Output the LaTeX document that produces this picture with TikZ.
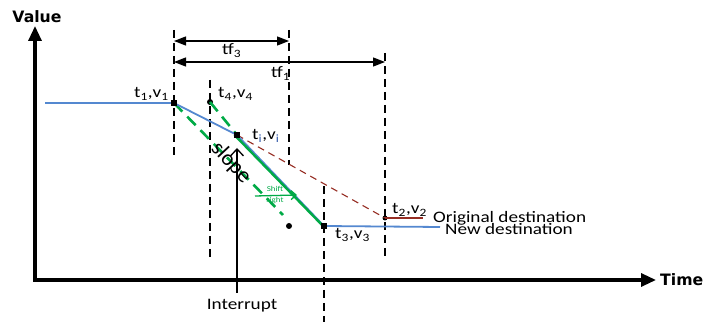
\documentclass[tikz,border=0pt]{standalone}
\usepackage{fontspec}
\setmainfont{Carlito}
\newfontfamily\axisfont{DejaVu Sans}
\usetikzlibrary{arrows.meta}

\definecolor{pathblue}{RGB}{84,136,208}
\definecolor{olddest}{RGB}{150,45,35}
\definecolor{shiftgreen}{RGB}{0,170,70}
\definecolor{subblue}{RGB}{50,90,170}

\newcommand{\wide}[1]{\scalebox{1.2}[1]{#1}}

\tikzset{
  axisline/.style={line width=3.2pt, line join=miter,
    {Triangle[length=15pt,width=13pt]}-{Triangle[length=15pt,width=13pt]}},
  guide/.style={line width=1.5pt, dash pattern=on 8pt off 5pt},
  span/.style={line width=1.3pt,
    {Triangle[length=12pt,width=9pt]}-{Triangle[length=12pt,width=9pt]}},
  sq/.style={fill=black, inner sep=0pt, minimum size=5.5pt},
  dot/.style={circle, fill=black, inner sep=0pt, minimum size=6pt},
  lbl/.style={font=\fontsize{16}{16}\selectfont, inner sep=0pt},
  axislabel/.style={font=\axisfont\bfseries\fontsize{15.7}{16}\selectfont, inner sep=0pt},
  bluepath/.style={pathblue, line width=1.8pt},
  greendash/.style={shiftgreen, line width=2.6pt, dash pattern=on 12pt off 7pt},
}

\begin{document}
\begin{tikzpicture}[x=1pt,y=1pt,yscale=-1]
\useasboundingbox (0,0) rectangle (705,323);

% axes
\coordinate (ytop) at (35,26);
\coordinate (origin) at (35,280);
\coordinate (xend) at (656,280);
\draw[axisline] (ytop) -- (origin) -- (xend);
\node[axislabel] (value) at (37,17) {Value};
\node[axislabel, anchor=base west] (time) at (660,286) {Time};

% points
\coordinate (start) at (45,103);
\node[sq] (t1) at (174,103) {};
\node[dot] (t4) at (210,102) {};
\node[sq] (ti) at (237,135) {};
\node[sq] (t3) at (324,226) {};
\node[circle, fill=black, inner sep=0pt, minimum size=5pt] (t2) at (385,218) {};
\node[dot] (lone) at (289,226) {};
\coordinate (newend) at (440,227);
\coordinate (oldend) at (423,218);
\coordinate (shiftend) at (283,215);

% vertical guides
\draw[guide] (t1.center |- 0,30) -- (t1.center |- 0,158);
\draw[guide] (t4.center |- 0,80) -- (t4.center |- 0,258);
\draw[guide] (289,30) -- (289,165);
\draw[guide] (t2.center |- 0,53) -- (t2.center |- 0,258);
\draw[guide] (t3.center |- 0,186) -- (t3.center |- 0,322);

% time spans
\coordinate (tfa) at (174,41);
\coordinate (tfb) at (289,41);
\coordinate (tfc) at (174,62);
\coordinate (tfd) at (385,62);
\draw[span] (tfa) -- (tfb);
\draw[span] (tfc) -- (tfd);
\node[lbl, anchor=base west] (tf3) at (222,55) {\wide{tf\textsubscript{3}}};
\node[lbl, anchor=base west] (tf1) at (271,78) {\wide{tf\textsubscript{1}}};

% trajectories
\draw[olddest, line width=1.1pt, dash pattern=on 7pt off 5pt] (ti.center) -- (t2.center);
\draw[olddest, line width=2.2pt] (t2.center) -- (oldend);
\draw[greendash] (t1.center) -- (shiftend);
\draw[greendash] (t4.center) -- (ti.center);
\draw[bluepath] (start) -- (t1.center) -- (ti.center) -- (t3.center) -- (newend);
\draw[shiftgreen, line width=2.4pt] ([xshift=-2.5pt]ti.center) -- ([xshift=-1pt]t3.center);
\node[sq] at (ti) {};
\node[sq] at (t3) {};
\node[sq] at (t1) {};

% shift right
\coordinate (shifta) at (255,196);
\coordinate (shiftb) at (297,195);
\draw[shiftgreen, line width=1.3pt, -{Straight Barb[length=5pt,width=9pt]}] (shifta) -- (shiftb);
\node[shiftgreen, font=\fontsize{7.5}{10.5}\selectfont, align=center, inner sep=0pt] (shiftlbl) at (275,195) {\wide{Shift}\\\wide{right}};

% slope
\node[font=\fontsize{22}{22}\selectfont, rotate=-47, inner sep=0pt] (slope) at (231,163) {slope};

% interrupt
\node[lbl] (intlbl) at (242,306) {\wide{Interrupt}};
\coordinate (intbase) at (237,293);
\coordinate (inttip) at (237,148);
\draw[line width=1.3pt, -{Straight Barb[length=7pt,width=13pt]}] (intbase) -- (inttip);

% labels
\node[lbl, anchor=base east] (lt1) at (169,98) {\wide{t\textsubscript{1},v\textsubscript{1}}};
\node[lbl, anchor=base west] (lt4) at (218,98) {\wide{t\textsubscript{4},v\textsubscript{4}}};
\node[lbl, anchor=base west] (lti) at (252,140) {\wide{t\textsubscript{\color{subblue}i},v\textsubscript{\color{subblue}i}}};
\node[lbl, anchor=base west] (lt2) at (392,214) {\wide{t\textsubscript{2},v\textsubscript{2}}};
\node[lbl, anchor=base west] (lt3) at (335,239) {\wide{t\textsubscript{3},v\textsubscript{3}}};
\node[lbl, anchor=base west] (orig) at (433,223) {\wide{Original destination}};
\node[lbl, anchor=base west] (newd) at (445,235) {\wide{New destination}};
\end{tikzpicture}
\end{document}
